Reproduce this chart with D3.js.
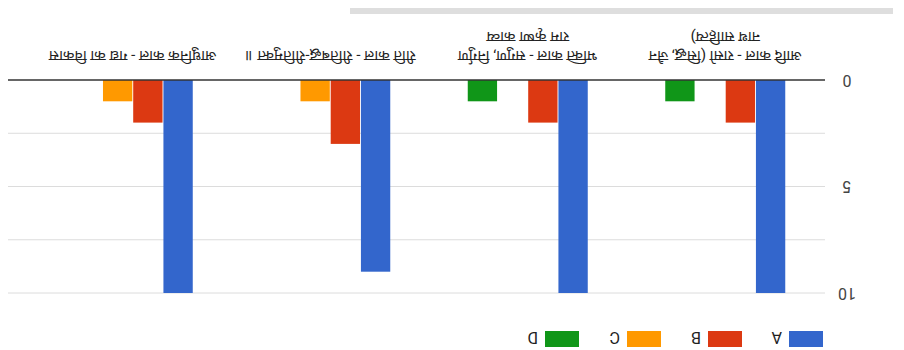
<!DOCTYPE html>
<html>
<head>
<meta charset="utf-8">
<script src="https://cdn.jsdelivr.net/npm/d3@7"></script>
<style>
  html, body { margin: 0; padding: 0; background: #fff; }
  svg { display: block; }
  text { font-family: Roboto, Arial, "Noto Sans Devanagari", "Noto Sans", sans-serif; }
</style>
</head>
<body>
<svg id="chart" width="904" height="350"></svg>
<script>
// ---- data ----
const categoryLines = [
  ["आदि काल - रासो (सिद्ध, जैन", "नाथ साहित्य)"],
  ["भक्ति काल - सगुण, निर्गुण", "राम कृष्ण काव्य"],
  ["रीति काल - रीतिबद्ध-रीतिमुक्त ॥"],
  ["आधुनिक काल - गद्य का विकास"]
];
const seriesNames = ["A", "B", "C", "D"];
const seriesA = [10, 10, 9, 10];
const seriesB = [2, 2, 3, 2];
const seriesC = [0, 0, 1, 1];
const seriesD = [1, 1, 0, 0];
const seriesColors = ["#3366cc", "#dc3912", "#ff9900", "#109618"];
const tickValues = [0, 2.5, 5, 7.5, 10];
const tickLabels = ["0", "", "5", "", "10"];

const seriesValues = [seriesA, seriesB, seriesC, seriesD];

const svg = d3.select("#chart");
// The reference picture is rotated by 180 degrees
const root = svg.append("g").attr("transform", "rotate(180 452 175)");

const x0 = d3.scaleBand().domain(d3.range(categoryLines.length)).range([80, 870]);
const groupW = 120;
const x1 = d3.scaleBand().domain(seriesNames).range([0, groupW]).paddingInner(0.03);
const y = d3.scaleLinear().domain([0, 10]).range([270, 57]);

// gridlines
root.append("g").selectAll("line").data(tickValues.filter(v => v !== 0)).join("line")
  .attr("x1", 79).attr("x2", 896)
  .attr("y1", d => y(d)).attr("y2", d => y(d))
  .attr("stroke", "#dcdcdc").attr("stroke-width", 1);

// tick labels
root.append("g").selectAll("text").data(tickValues).join("text")
  .attr("x", 57).attr("y", d => y(d))
  .attr("text-anchor", "middle").attr("dominant-baseline", "central")
  .attr("font-size", 16).attr("fill", "#444")
  .text((d, i) => tickLabels[i]);

// bars
const groups = root.append("g").selectAll("g").data(categoryLines).join("g")
  .attr("transform", (d, i) => `translate(${x0(i) + (x0.bandwidth() - groupW) / 2},0)`);
groups.each(function(_, ci) {
  d3.select(this).selectAll("rect").data(seriesNames).join("rect")
    .attr("x", s => x1(s))
    .attr("width", x1.bandwidth())
    .attr("y", (s, si) => y(seriesValues[si][ci]))
    .attr("height", (s, si) => y(0) - y(seriesValues[si][ci]))
    .attr("fill", (s, si) => seriesColors[si]);
});

// baseline
root.append("line")
  .attr("x1", 79).attr("x2", 896).attr("y1", y(0)).attr("y2", y(0))
  .attr("stroke", "#333").attr("stroke-width", 1.5);

// category labels
const lab = root.append("g").selectAll("text").data(categoryLines).join("text")
  .attr("text-anchor", "middle").attr("font-size", 15).attr("fill", "#222")
  .attr("x", (d, i) => x0(i) + x0.bandwidth() / 2);
lab.each(function(lines, i) {
  d3.select(this).selectAll("tspan").data(lines).join("tspan")
    .attr("x", x0(i) + x0.bandwidth() / 2)
    .attr("y", (l, li) => 299 + li * 19)
    .text(l => l);
});

// legend
const legendX = [81, 162, 243, 325];
const lg = root.append("g").selectAll("g").data(seriesNames).join("g")
  .attr("transform", (d, i) => `translate(${legendX[i]},3)`);
lg.append("rect").attr("width", 34).attr("height", 16).attr("fill", (d, i) => seriesColors[i]);
lg.append("text").attr("x", 41).attr("y", 15).attr("font-size", 16).attr("fill", "#222").text(d => d);

// scrollbar-like strip
root.append("rect").attr("x", 11).attr("y", 336).attr("width", 543).attr("height", 6).attr("fill", "#dedede");
</script>
</body>
</html>
